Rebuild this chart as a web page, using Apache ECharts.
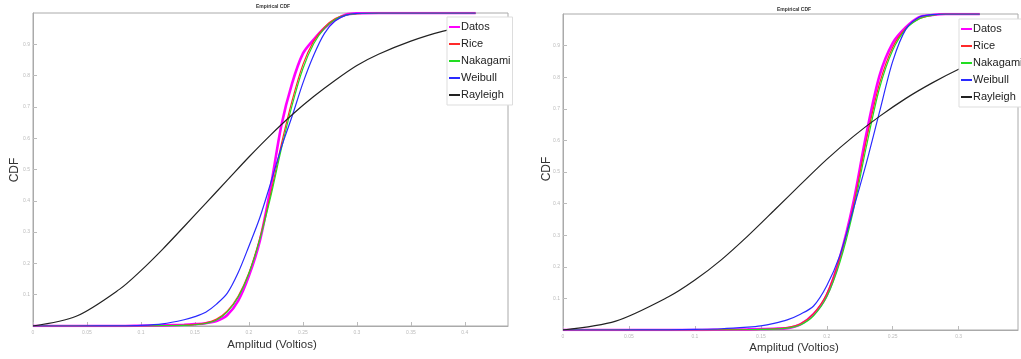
<!DOCTYPE html>
<html>
<head>
<meta charset="utf-8">
<script src="https://cdn.jsdelivr.net/npm/echarts@6/dist/echarts.min.js"></script>
<style>html,body{margin:0;padding:0;background:#fff;}#c{width:1021px;height:359px;}</style>
</head>
<body>
<div id="c"></div>
<script>
// ---------- DATA ----------
const seriesNames = ['Datos', 'Rice', 'Nakagami', 'Weibull', 'Rayleigh'];
const titleText = 'Empirical CDF';
const xName = 'Amplitud (Voltios)';
const yName = 'CDF';

// Left panel
const leftX = [0, 0.04, 0.08, 0.10, 0.12, 0.14, 0.15, 0.16, 0.17, 0.18, 0.19, 0.20, 0.21, 0.22, 0.23, 0.24, 0.25, 0.26, 0.27, 0.28, 0.29, 0.30, 0.32, 0.35, 0.38, 0.41];
const leftDatos    = [0, 0, 0, 0.001, 0.002, 0.004, 0.006, 0.009, 0.016, 0.035, 0.08, 0.16, 0.27, 0.44, 0.64, 0.775, 0.87, 0.915, 0.952, 0.978, 0.995, 0.999, 1, 1, 1, 1];
const leftRice     = [0, 0, 0, 0, 0.001, 0.003, 0.005, 0.010, 0.022, 0.048, 0.095, 0.17, 0.28, 0.42, 0.58, 0.72, 0.835, 0.91, 0.955, 0.982, 0.994, 0.998, 1, 1, 1, 1];
const leftNakagami = [0, 0, 0, 0, 0.001, 0.002, 0.004, 0.008, 0.019, 0.045, 0.092, 0.168, 0.275, 0.41, 0.565, 0.705, 0.822, 0.902, 0.951, 0.979, 0.993, 0.998, 1, 1, 1, 1];
const leftWeibull  = [0, 0, 0.0005, 0.002, 0.007, 0.02, 0.03, 0.044, 0.07, 0.105, 0.17, 0.255, 0.345, 0.455, 0.57, 0.67, 0.776, 0.865, 0.935, 0.975, 0.993, 0.999, 1, 1, 1, 1];
const leftRayX     = [0, 0.04, 0.08, 0.10, 0.12, 0.14, 0.16, 0.18, 0.20, 0.22, 0.24, 0.26, 0.28, 0.30, 0.32, 0.35, 0.38, 0.41, 0.44];
const leftRayleigh = [0, 0.031, 0.117, 0.177, 0.245, 0.318, 0.392, 0.466, 0.54, 0.61, 0.675, 0.733, 0.785, 0.832, 0.868, 0.91, 0.942, 0.962, 0.975];
const leftXTicks   = { min: 0, max: 0.44, interval: 0.05 };

// Right panel
const rightX = [0, 0.04, 0.08, 0.10, 0.12, 0.14, 0.15, 0.16, 0.17, 0.18, 0.19, 0.20, 0.21, 0.22, 0.23, 0.24, 0.25, 0.26, 0.27, 0.28, 0.29, 0.30, 0.316];
const rightDatos    = [0, 0, 0, 0, 0.001, 0.002, 0.003, 0.004, 0.006, 0.018, 0.05, 0.11, 0.23, 0.40, 0.62, 0.805, 0.908, 0.958, 0.99, 0.997, 1, 1, 1];
const rightRice     = [0, 0, 0, 0, 0.001, 0.001, 0.002, 0.004, 0.008, 0.02, 0.052, 0.115, 0.23, 0.39, 0.60, 0.78, 0.895, 0.955, 0.985, 0.996, 1, 1, 1];
const rightNakagami = [0, 0, 0, 0, 0, 0.001, 0.002, 0.003, 0.006, 0.016, 0.045, 0.105, 0.215, 0.375, 0.58, 0.765, 0.885, 0.952, 0.984, 0.996, 1, 1, 1];
const rightWeibull  = [0, 0, 0.0005, 0.002, 0.004, 0.009, 0.013, 0.021, 0.032, 0.05, 0.076, 0.14, 0.237, 0.38, 0.528, 0.69, 0.85, 0.952, 0.99, 0.998, 1, 1, 1];
const rightRayX     = [0, 0.04, 0.08, 0.10, 0.12, 0.14, 0.16, 0.18, 0.20, 0.22, 0.24, 0.26, 0.28, 0.30, 0.32, 0.345];
const rightRayleigh = [0, 0.028, 0.105, 0.158, 0.222, 0.297, 0.378, 0.46, 0.54, 0.612, 0.676, 0.733, 0.782, 0.825, 0.862, 0.9];
const rightXTicks   = { min: 0, max: 0.345, interval: 0.05 };

// ---------- STYLE ----------
const colors = { Datos: '#ff00ff', Rice: '#ff2a2a', Nakagami: '#22dd22', Weibull: '#2a2aff', Rayleigh: '#222222' };
const widths = { Datos: 2.6, Rice: 1.2, Nakagami: 1.2, Weibull: 1.2, Rayleigh: 1.2 };
const FONT = 'Liberation Sans, Arial, sans-serif';

function pairs(xs, ys) { return xs.map((x, i) => [x, ys[i]]); }

function mkSeries(name, xs, ys, idx) {
  return {
    name: name, type: 'line', xAxisIndex: idx, yAxisIndex: idx,
    data: pairs(xs, ys), showSymbol: false, symbol: 'none',
    smooth: 0.3,
    lineStyle: { color: colors[name], width: widths[name] },
    itemStyle: { color: colors[name] },
    emphasis: { disabled: true }, animation: false
  };
}

function mkXAxis(idx, t) {
  return {
    type: 'value', gridIndex: idx, min: t.min, max: t.max, interval: t.interval,
    axisLine: { show: true, lineStyle: { color: '#aaa', width: 1 } },
    axisTick: { show: true, inside: true, length: 4, lineStyle: { color: '#bbb' } },
    axisLabel: { fontSize: 5, color: '#bbb', margin: 4, fontFamily: FONT, showMaxLabel: false },
    splitLine: { show: false }
  };
}
function mkYAxis(idx) {
  return {
    type: 'value', gridIndex: idx, min: 0, max: 1, interval: 0.1,
    axisLine: { show: true, lineStyle: { color: '#aaa', width: 1 } },
    axisTick: { show: true, inside: true, length: 4, lineStyle: { color: '#bbb' } },
    axisLabel: { fontSize: 5, color: '#bbb', margin: 3, fontFamily: FONT, showMaxLabel: false, showMinLabel: false },
    splitLine: { show: false }
  };
}
function mkLegend(left, top) {
  return {
    orient: 'vertical', left: left, top: top,
    data: seriesNames.map(n => ({ name: n, icon: 'rect', itemStyle: { color: colors[n] } })),
    itemWidth: 11, itemHeight: 2, itemGap: 3,
    padding: [3, 2, 3, 2], backgroundColor: '#fff',
    borderColor: '#ddd', borderWidth: 1, borderRadius: 0,
    textStyle: { fontFamily: FONT, fontSize: 11, color: '#222', padding: [0, 0, 0, -4], lineHeight: 14 },
    selectedMode: false
  };
}
function txt(text, x, y, size, rot, weight) {
  return {
    type: 'text', x: x, y: y, rotation: rot || 0, z: 10, silent: true,
    style: { text: text, fontFamily: FONT, fontSize: size, fontWeight: weight || 'normal', fill: '#333', align: 'center', verticalAlign: 'middle' }
  };
}

const series = [];
[['Datos', leftDatos], ['Rice', leftRice], ['Nakagami', leftNakagami], ['Weibull', leftWeibull]].forEach(s => series.push(mkSeries(s[0], leftX, s[1], 0)));
series.push(mkSeries('Rayleigh', leftRayX, leftRayleigh, 0));
[['Datos', rightDatos], ['Rice', rightRice], ['Nakagami', rightNakagami], ['Weibull', rightWeibull]].forEach(s => series.push(mkSeries(s[0], rightX, s[1], 1)));
series.push(mkSeries('Rayleigh', rightRayX, rightRayleigh, 1));

const chart = echarts.init(document.getElementById('c'), null, { renderer: 'canvas' });
chart.setOption({
  backgroundColor: '#fff',
  animation: false,
  grid: [
    { left: 33, top: 13, width: 475, height: 313, show: true, borderColor: '#aaa', borderWidth: 1, containLabel: false },
    { left: 563, top: 14, width: 455, height: 316, show: true, borderColor: '#aaa', borderWidth: 1, containLabel: false }
  ],
  xAxis: [mkXAxis(0, leftXTicks), mkXAxis(1, rightXTicks)],
  yAxis: [mkYAxis(0), mkYAxis(1)],
  legend: [mkLegend(447, 17), mkLegend(959, 19)],
  graphic: [
    txt(titleText, 273, 7, 5, 0, 'bold'),
    txt(titleText, 794, 10, 5, 0, 'bold'),
    txt(xName, 272, 345, 11.5),
    txt(xName, 794, 348, 11.5),
    txt(yName, 15, 170, 12, Math.PI / 2),
    txt(yName, 547, 169, 12, Math.PI / 2)
  ],
  series: series
});
</script>
</body>
</html>
